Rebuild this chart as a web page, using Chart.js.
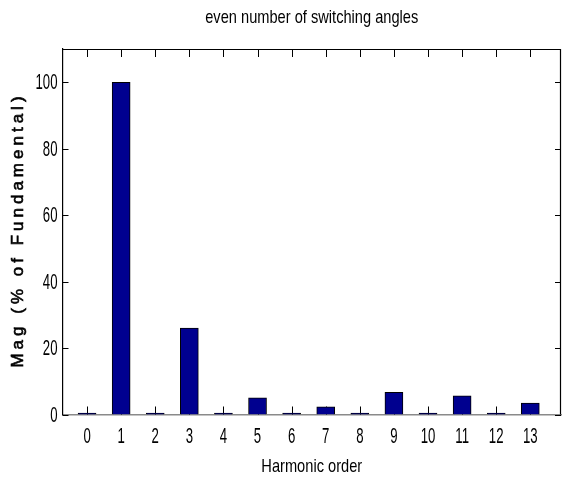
<!DOCTYPE html>
<html>
<head>
<meta charset="utf-8">
<script src="https://cdn.jsdelivr.net/npm/chart.js@4.4.1/dist/chart.umd.min.js"></script>
<style>
  html, body { margin: 0; padding: 0; background: #fff; }
  #wrap { width: 562px; height: 482px; }
</style>
</head>
<body>
<div id="wrap"><canvas id="c" width="562" height="482"></canvas></div>
<script>
// Harmonic spectrum of the output voltage
const harmonicOrders = [0, 1, 2, 3, 4, 5, 6, 7, 8, 9, 10, 11, 12, 13];
const magnitudes = [0.4, 100, 0.4, 26, 0.4, 5, 0.4, 2.3, 0.4, 6.7, 0.4, 5.6, 0.4, 3.4];
const yTickValues = [0, 20, 40, 60, 80, 100];

const chartTitle = 'even number of switching angles';
const xTitle = 'Harmonic order';
const yTitle = 'Mag (% of Fundamental)';

const baseFont = '"Liberation Sans", Arial, sans-serif';

// Draws text squeezed horizontally, imitating a condensed Helvetica
function narrowText(ctx, text, x, y, size, squeeze, align) {
  ctx.save();
  ctx.font = size + 'px ' + baseFont;
  ctx.textBaseline = 'middle';
  ctx.textAlign = align;
  ctx.translate(x, y);
  ctx.scale(squeeze, 1);
  ctx.fillText(text, 0, 0);
  ctx.restore();
}

// Frame, inward ticks, tick labels and titles in the MATLAB style
const axesFrame = {
  id: 'axesFrame',
  beforeDatasetsDraw(chart) {
    const { ctx, chartArea: a, scales: { x, y } } = chart;
    ctx.save();
    ctx.strokeStyle = '#000';
    ctx.lineWidth = 1;
    ctx.beginPath();
    x.ticks.forEach(t => {
      const px = Math.round(x.getPixelForValue(t.value)) + 0.5;
      ctx.moveTo(px, a.bottom); ctx.lineTo(px, a.bottom - 8);
      ctx.moveTo(px, a.top); ctx.lineTo(px, a.top + 8);
    });
    y.ticks.forEach(t => {
      const py = Math.round(y.getPixelForValue(t.value)) + 0.5;
      ctx.moveTo(a.left, py); ctx.lineTo(a.left + 6, py);
      ctx.moveTo(a.right, py); ctx.lineTo(a.right - 6, py);
    });
    ctx.stroke();
    ctx.restore();
  },
  afterDraw(chart) {
    const { ctx, chartArea: a, scales: { x, y } } = chart;
    ctx.save();
    // top and right spines
    ctx.strokeStyle = '#000';
    ctx.lineWidth = 1.2;
    ctx.beginPath();
    ctx.moveTo(a.left, a.top + 0.5); ctx.lineTo(a.right, a.top + 0.5);
    ctx.moveTo(a.right - 0.5, a.top); ctx.lineTo(a.right - 0.5, a.bottom);
    ctx.stroke();

    ctx.fillStyle = '#000';
    x.ticks.forEach(t => {
      narrowText(ctx, String(t.value), x.getPixelForValue(t.value), a.bottom + 22, 22, 0.6, 'center');
    });
    y.ticks.forEach(t => {
      narrowText(ctx, String(t.value), a.left - 5, y.getPixelForValue(t.value) + 1, 22, 0.6, 'right');
    });

    const cx = (a.left + a.right) / 2;
    narrowText(ctx, chartTitle, cx, 18, 19, 0.77, 'center');
    narrowText(ctx, xTitle, cx, 467, 19, 0.77, 'center');

    // vertical axis label, slightly heavier than regular weight
    ctx.translate(18, 232);
    ctx.rotate(-Math.PI / 2);
    ctx.font = '17px ' + baseFont;
    ctx.textAlign = 'center';
    ctx.textBaseline = 'middle';
    ctx.letterSpacing = '4px';
    ctx.strokeStyle = '#000';
    ctx.lineWidth = 0.6;
    ctx.fillText(yTitle, 2, 0);
    ctx.strokeText(yTitle, 2, 0);
    ctx.restore();
  }
};

new Chart(document.getElementById('c'), {
  type: 'bar',
  data: {
    datasets: [{
      data: harmonicOrders.map((h, i) => ({ x: h, y: magnitudes[i] })),
      backgroundColor: '#00008f',
      borderColor: '#000',
      borderWidth: 1,
      borderSkipped: 'bottom',
      barThickness: 18
    }]
  },
  options: {
    responsive: false,
    animation: false,
    events: [],
    layout: { padding: { top: 49, right: 1, left: 0, bottom: 0 } },
    plugins: { legend: { display: false }, tooltip: { enabled: false }, title: { display: false } },
    scales: {
      x: {
        type: 'linear',
        offset: false,
        min: -0.72,
        max: 13.9,
        afterBuildTicks(scale) { scale.ticks = harmonicOrders.map(v => ({ value: v })); },
        afterFit(scale) { scale.height = 67.5; },
        grid: { display: false, drawTicks: false },
        border: { display: true, color: '#8a8a8a', width: 1.5 },
        ticks: { display: false }
      },
      y: {
        min: 0,
        max: 110,
        afterBuildTicks(scale) { scale.ticks = yTickValues.map(v => ({ value: v })); },
        afterFit(scale) { scale.width = 62.5; },
        grid: { display: false, drawTicks: false },
        border: { display: true, color: '#000', width: 1.2 },
        ticks: { display: false }
      }
    }
  },
  plugins: [axesFrame]
});
</script>
</body>
</html>
